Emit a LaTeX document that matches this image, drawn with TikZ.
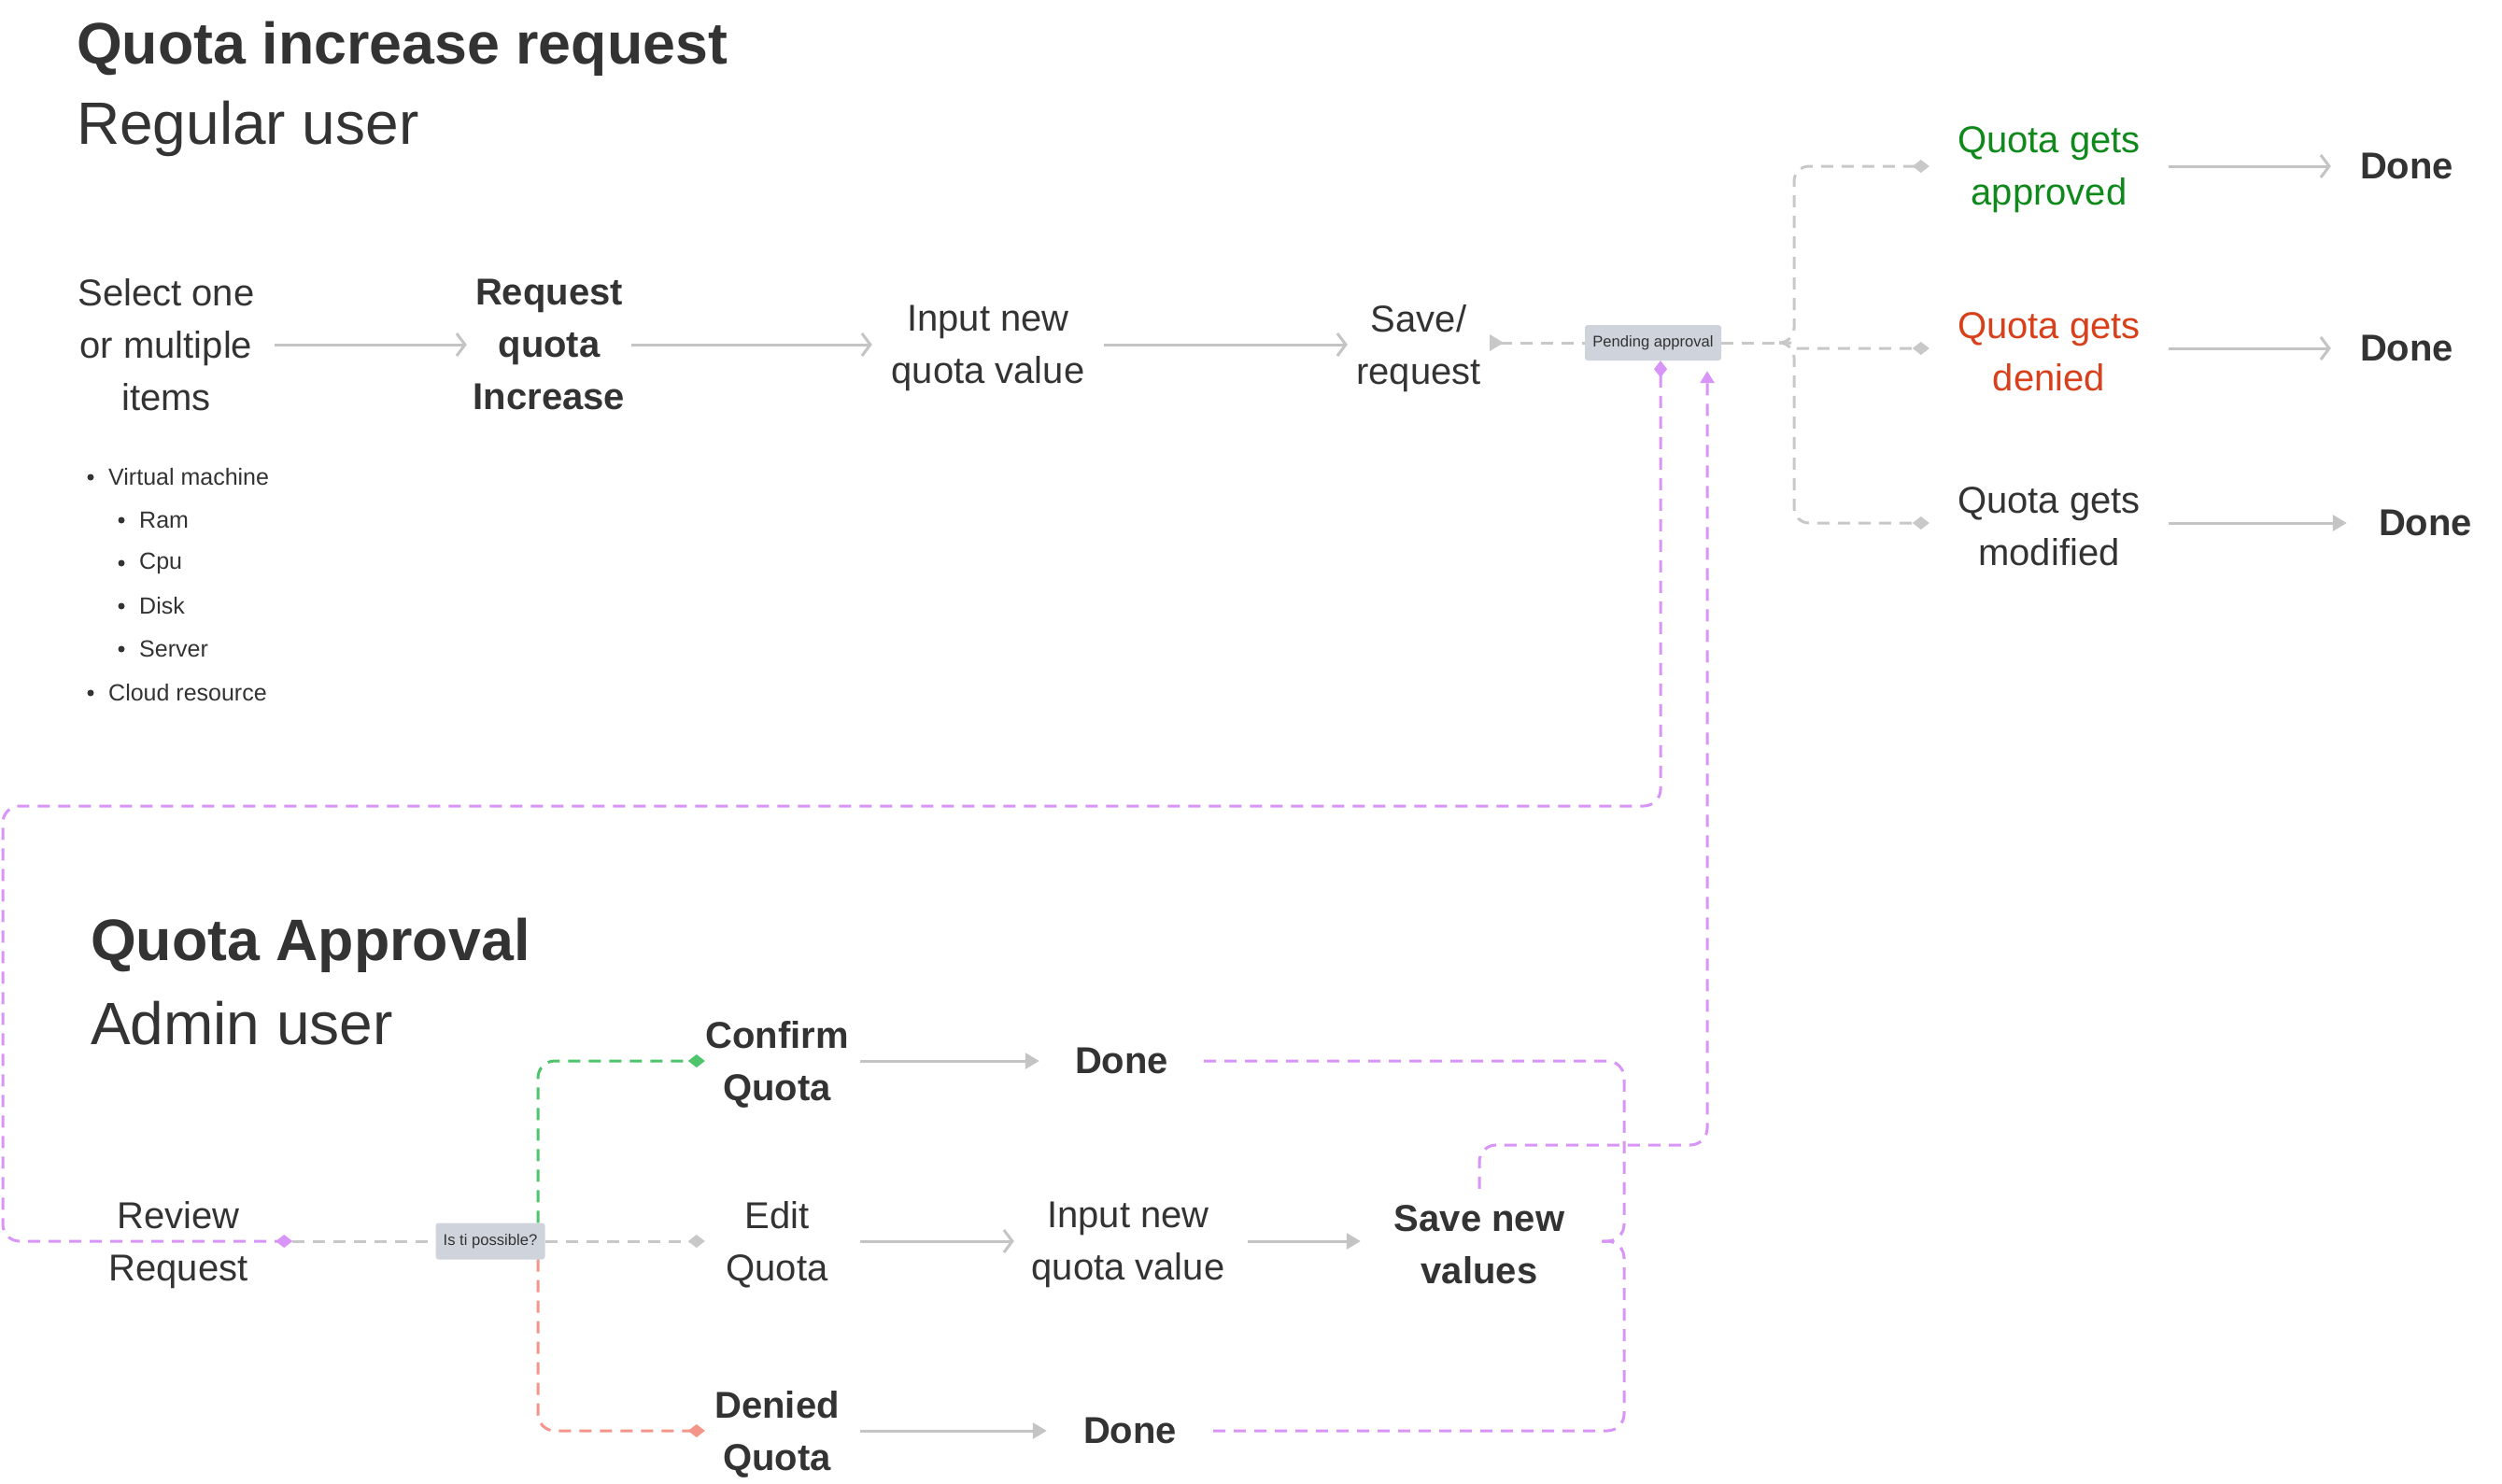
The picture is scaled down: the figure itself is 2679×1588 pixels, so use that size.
\documentclass[tikz,border=0pt]{standalone}
\usepackage{fontspec}
\setmainfont{Liberation Sans}
\usetikzlibrary{arrows.meta,calc}
\definecolor{ink}{HTML}{333333}
\definecolor{gline}{HTML}{C4C4C4}
\definecolor{gdash}{HTML}{C8C8C8}
\definecolor{tagfill}{HTML}{CFD4DC}
\definecolor{ppl}{HTML}{D895F7}
\definecolor{okline}{HTML}{4DC66B}
\definecolor{noline}{HTML}{F4958A}
\definecolor{okgreen}{HTML}{10891C}
\definecolor{nored}{HTML}{D8401B}
\begin{document}
\begin{tikzpicture}[x=1pt,y=-1pt,
  txt/.style={align=center,inner sep=0pt,text=ink,font=\fontsize{40}{56}\selectfont},
  txtb/.style={txt,font=\fontsize{40}{56}\selectfont\bfseries},
  ttl/.style={anchor=base west,inner sep=0pt,text=ink,font=\fontsize{62.7}{72}\selectfont\bfseries},
  sub/.style={anchor=base west,inner sep=0pt,text=ink,font=\fontsize{64}{72}\selectfont},
  itm/.style={anchor=west,inner sep=0pt,text=ink,font=\fontsize{25}{30}\selectfont},
  dot/.style={circle,fill=ink,inner sep=0pt,minimum size=7pt},
  tag/.style={fill=tagfill,rounded corners=3pt,inner sep=0pt,text=ink,font=\fontsize{16.6}{20}\selectfont},
  flow/.style={draw=gline,line width=3pt},
  openhead/.style={flow,-{Straight Barb[length=9pt,width=24pt]}},
  fillhead/.style={flow,-{Triangle[length=15pt,width=17pt]}},
  dsh/.style={line width=3pt,dash pattern=on 13pt off 9pt},
  gd/.style={dsh,draw=gdash},
  pd/.style={dsh,draw=ppl},
  dia/.style={-{Diamond[length=18pt,width=14pt]}},
]
\useasboundingbox[fill=white] (0,0) rectangle (2679,1588);

% ---------- top section ----------
\node[ttl] (t1) at (82,68) {Quota increase request};
\node[sub] (s1) at (82,154) {Regular user};
\node[txt,minimum width=232pt] (sel) at (178,369) {Select one\\or multiple\\items};
\node[txtb,minimum width=176pt] (req) at (588,369) {Request\\quota\\Increase};
\node[txt,minimum width=248pt] (inp) at (1058,373) {Input new\\quota value};
\node[txt,minimum width=152pt] (save) at (1519,373) {Save/\\request};
\node[tag,minimum width=146pt,minimum height=38pt] (pend) at (1770,367) {Pending approval};
\coordinate (jn) at (1905,367);
\node[txt,text=okgreen,minimum width=256pt] (appr) at (2194,182) {Quota gets\\approved};
\node[txt,text=nored,minimum width=256pt] (den) at (2194,377) {Quota gets\\denied};
\node[txt,minimum width=256pt] (mod) at (2194,564) {Quota gets\\modified};
\node[txtb,minimum width=162pt] (d1) at (2577,178) {Done};
\node[txtb,minimum width=162pt] (d2) at (2577,373) {Done};
\node[txtb,minimum width=168pt] (d3) at (2597,560) {Done};

% bullet list
\node[dot] (b1) at (97,511) {};  \node[itm] (l1) at (116,511) {Virtual machine};
\node[dot] (b2) at (130,557) {}; \node[itm] (l2) at (149,557) {Ram};
\node[dot] (b3) at (130,603) {}; \node[itm] (l3) at (149,603) {Cpu};
\node[dot] (b4) at (130,649) {}; \node[itm] (l4) at (149,649) {Disk};
\node[dot] (b5) at (130,695) {}; \node[itm] (l5) at (149,695) {Server};
\node[dot] (b6) at (97,742) {};  \node[itm] (l6) at (116,742) {Cloud resource};

\draw[openhead] (sel) -- (req);
\draw[openhead] (req.east) -- (req.east -| inp.west);
\draw[openhead] (inp.east |- req.east) -- (save.west |- req.east);
\draw[gd,{Triangle[reversed,length=15pt,width=17pt]}-] (save.east |- pend.west) -- (pend.west);
\draw[gd] (pend.east) -- (jn);
\draw[gd,dia,rounded corners=16pt] (jn) -- ++(16,0) |- (appr.west |- d1.west);
\draw[gd,dia,rounded corners=3pt] (jn) -- ++(16,0) |- (den.west |- d2.west);
\draw[gd,dia,rounded corners=16pt] (jn) -- ++(16,0) |- (mod.west |- d3.west);
\draw[openhead] (appr.east |- d1.west) -- (d1.west);
\draw[openhead] (den.east |- d2.west) -- (d2.west);
\draw[fillhead] (mod.east |- d3.west) -- (d3.west);

% ---------- bottom section ----------
\node[ttl] (t2) at (97,1028) {Quota Approval};
\node[sub] (s2) at (97,1118) {Admin user};
\node[txt,minimum width=244pt] (rev) at (191,1333) {Review\\Request};
\node[tag,minimum width=117pt,minimum height=39pt] (isti) at (525,1329) {Is ti possible?};
\node[txtb,minimum width=154pt] (conf) at (832,1140) {Confirm\\Quota};
\node[txt,minimum width=154pt] (edit) at (832,1333) {Edit\\Quota};
\node[txtb,minimum width=154pt] (deny) at (832,1536) {Denied\\Quota};
\node[txtb,minimum width=176pt] (dC) at (1201,1136) {Done};
\node[txt,minimum width=244pt] (inp2) at (1208,1333) {Input new\\quota value};
\node[txtb,minimum width=254pt,minimum height=120pt] (saveN) at (1584,1333) {Save new\\values};
\node[txtb,minimum width=178pt] (dD) at (1210,1532) {Done};

\draw[gd] (isti.west -| rev.east) -- (isti.west);
\draw[gd,dia] (isti.east) -- (isti.east -| edit.west);
\draw[gd,draw=okline,dia,rounded corners=18pt] ([xshift=51pt]isti.north) |- (conf.west |- dC.west);
\draw[gd,draw=noline,dia,rounded corners=18pt] ([xshift=51pt]isti.south) |- (deny.west |- dD.west);
\draw[fillhead,shorten <=12pt] (conf.east |- dC.west) -- (dC.west);
\draw[openhead,shorten <=12pt] (edit.east |- isti.east) -- (inp2.west |- isti.east);
\draw[fillhead,shorten <=12pt] (deny.east |- dD.west) -- (dD.west);
\draw[fillhead,shorten <=6pt] (inp2.east |- isti.east) -- (saveN.west |- isti.east);

% purple links
\draw[pd,{Diamond[length=18pt,width=14pt]}-{Diamond[length=18pt,width=14pt]},rounded corners=18pt]
  ([xshift=8pt]pend.south) |- (3,863) |- (isti.west -| rev.east);
\draw[pd,-{Triangle[length=13pt,width=15pt]},rounded corners=18pt,shorten >=11pt]
  (saveN.north) |- (1828,1226) -- ([xshift=58pt]pend.south);
\draw[pd,rounded corners=18pt] (dC.east) -| (1739,1329) -- (saveN.east |- isti.east);
\draw[pd,rounded corners=18pt] (dD.east) -| (1739,1329) -- (saveN.east |- isti.east);
\end{tikzpicture}
\end{document}
